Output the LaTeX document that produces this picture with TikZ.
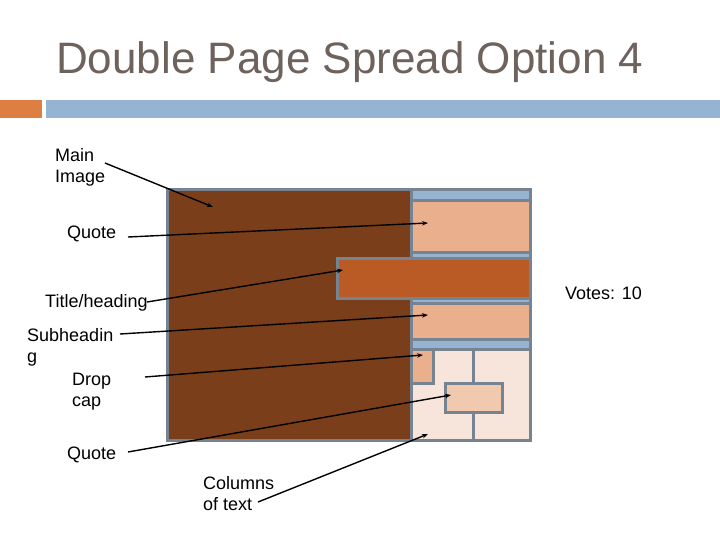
\documentclass[tikz,border=0pt]{standalone}
\usepackage{fontspec}
\setmainfont{Liberation Sans}
\usetikzlibrary{arrows.meta}
\definecolor{brownimg}{RGB}{123,62,26}
\definecolor{bordergray}{RGB}{118,132,146}
\definecolor{stripblue}{RGB}{150,180,210}
\definecolor{tanbox}{RGB}{234,176,142}
\definecolor{orangebar}{RGB}{186,91,37}
\definecolor{lightbg}{RGB}{247,229,219}
\definecolor{quotebox}{RGB}{241,201,174}
\definecolor{hdrorange}{RGB}{222,126,66}
\definecolor{hdrblue}{RGB}{148,180,210}
\definecolor{titlegray}{RGB}{110,98,92}
\tikzset{
  panel/.style={draw=bordergray, line width=3pt},
  lbl/.style={anchor=north west, inner sep=0pt, align=left, font=\fontsize{18}{21}\selectfont},
  pointer/.style={line width=1.4pt, -{Stealth[length=6pt,width=4.5pt]}},
}
\begin{document}
\begin{tikzpicture}[x=1pt,y=-1pt]
\useasboundingbox (0,0) rectangle (720,540);
% header
\node[anchor=base west, inner sep=0pt, text=titlegray, font=\fontsize{44}{50}\selectfont] (title) at (56,74) {Double Page Spread Option 4};
\fill[hdrorange] (0,100) rectangle (42,118);
\fill[hdrblue] (46,100) rectangle (720,118);
% layout
\draw[panel, fill=brownimg] (167,190) rectangle (411,440);
\draw[panel, fill=stripblue] (411,190) rectangle (530,201);
\draw[panel, fill=tanbox] (411,201) rectangle (530,252);
\draw[panel, fill=stripblue] (411,252) rectangle (530,258);
\draw[panel, fill=stripblue] (411,298) rectangle (530,303);
\draw[panel, fill=tanbox] (411,303) rectangle (530,339);
\draw[panel, fill=stripblue] (411,339) rectangle (530,349);
\draw[panel, fill=lightbg] (411,349) rectangle (530,440);
\draw[panel] (473,349) -- (473,440);
\draw[panel, fill=tanbox] (411,349) rectangle (433,383);
\draw[panel, fill=quotebox] (445,383) rectangle (502,412);
\draw[panel, fill=orangebar] (337,258) rectangle (530,298);
% labels
\node[lbl] (main) at (55,148) {Main\\Image};
\node[lbl] (quote1) at (67,226) {Quote};
\node[lbl] (titlel) at (45,294) {Title/heading};
\node[lbl] (subh) at (27,328) {Subheadin\\g};
\node[lbl] (drop) at (72,373) {Drop\\cap};
\node[lbl] (quote2) at (67,447) {Quote};
\node[lbl] (cols) at (203,476) {Columns\\of text};
\node[lbl] (votes) at (565,287) {Votes: 10};
% connector ends
\coordinate (s1) at (105,163); \coordinate (e1) at (213,207);
\coordinate (s2) at (128,237); \coordinate (e2) at (428,223);
\coordinate (s3) at (147,302); \coordinate (e3) at (343,270);
\coordinate (s4) at (120,334); \coordinate (e4) at (428,315);
\coordinate (s5) at (145,377); \coordinate (e5) at (423,355);
\coordinate (s6) at (128,452); \coordinate (e6) at (451,395);
\coordinate (s7) at (258,502); \coordinate (e7) at (428,434);
\draw[pointer] (s1) -- (e1);
\draw[pointer] (s2) -- (e2);
\draw[pointer] (s3) -- (e3);
\draw[pointer] (s4) -- (e4);
\draw[pointer] (s5) -- (e5);
\draw[pointer] (s6) -- (e6);
\draw[pointer] (s7) -- (e7);
\end{tikzpicture}
\end{document}
